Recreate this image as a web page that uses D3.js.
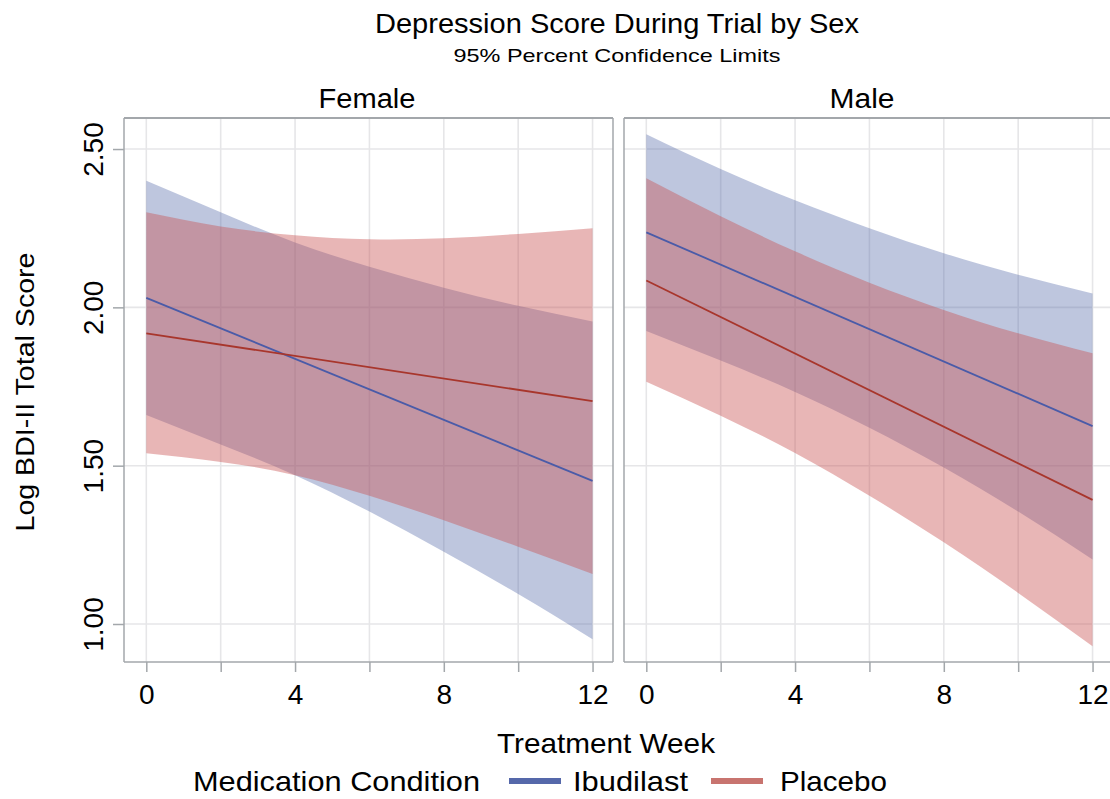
<!DOCTYPE html>
<html>
<head>
<meta charset="utf-8">
<script src="https://cdn.jsdelivr.net/npm/d3@7"></script>
<style>
  html, body { margin: 0; padding: 0; background: #fff; }
  svg { display: block; }
  .cond { font-family: "Liberation Sans Narrow", "Liberation Sans", Arial, sans-serif; fill: #000; }
  .num { font-family: "Liberation Sans", Arial, sans-serif; fill: #000; }
</style>
</head>
<body>
<svg id="chart" width="1110" height="799"></svg>
<script>
// ---------------- data ----------------
const panels = ["Female", "Male"];
const conditions = ["Ibudilast", "Placebo"];
const bandWeeks = [0, 2, 4, 6, 8, 10, 12];
const lineWeeks = [0, 12];
const xTickValues = [0, 2, 4, 6, 8, 10, 12];
const xTickLabels = ["0", "", "4", "", "8", "", "12"];
const yTickValues = [1.0, 1.5, 2.0, 2.5];
const yTickLabels = ["1.00", "1.50", "2.00", "2.50"];

// Female
const femaleIbudMean = [2.03, 1.452];
const femaleIbudUpper = [2.40, 2.30, 2.205, 2.128, 2.062, 2.005, 1.955];
const femaleIbudLower = [1.66, 1.567, 1.47, 1.355, 1.228, 1.095, 0.952];
const femalePlacMean = [1.918, 1.704];
const femalePlacUpper = [2.30, 2.255, 2.228, 2.215, 2.218, 2.232, 2.25];
const femalePlacLower = [1.539, 1.512, 1.47, 1.405, 1.328, 1.244, 1.158];

// Male
const maleIbudMean = [2.237, 1.625];
const maleIbudUpper = [2.547, 2.437, 2.338, 2.25, 2.171, 2.103, 2.044];
const maleIbudLower = [1.925, 1.832, 1.733, 1.62, 1.494, 1.355, 1.204];
const malePlacMean = [2.085, 1.392];
const malePlacUpper = [2.408, 2.288, 2.177, 2.078, 1.992, 1.918, 1.855];
const malePlacLower = [1.765, 1.658, 1.54, 1.405, 1.258, 1.098, 0.93];

const panelData = {
  Female: {
    Ibudilast: { mean: femaleIbudMean, upper: femaleIbudUpper, lower: femaleIbudLower },
    Placebo:   { mean: femalePlacMean, upper: femalePlacUpper, lower: femalePlacLower }
  },
  Male: {
    Ibudilast: { mean: maleIbudMean, upper: maleIbudUpper, lower: maleIbudLower },
    Placebo:   { mean: malePlacMean, upper: malePlacUpper, lower: malePlacLower }
  }
};

// ---------------- styles ----------------
const bandColor = { Ibudilast: "rgba(84,104,168,0.38)", Placebo: "rgba(200,80,80,0.42)" };
const lineColor = { Ibudilast: "#4A5BA8", Placebo: "#A8362C" };
const legendColor = { Ibudilast: "#5568AA", Placebo: "#C8746F" };
const gridColor = "#E6E6E8";
const frameColor = "#A3A7AB";

const svg = d3.select("#chart");

const panelLeft = { Female: 124, Male: 624 };
const panelWidth = 489;
const plotTop = 118, plotBottom = 662;

const y = d3.scaleLinear().domain([0.88, 2.598]).range([plotBottom, plotTop]);

// ---------------- titles ----------------
svg.append("text").attr("class", "cond")
  .attr("x", 617).attr("y", 33).attr("text-anchor", "middle")
  .attr("font-size", 27).attr("textLength", 484).attr("lengthAdjust", "spacingAndGlyphs")
  .text("Depression Score During Trial by Sex");
svg.append("text").attr("class", "cond")
  .attr("x", 617).attr("y", 62).attr("text-anchor", "middle")
  .attr("font-size", 19).attr("textLength", 327).attr("lengthAdjust", "spacingAndGlyphs")
  .text("95% Percent Confidence Limits");

// y axis title
svg.append("text").attr("class", "num")
  .attr("transform", "translate(34,392) rotate(-90)")
  .attr("text-anchor", "middle").attr("font-size", 26)
  .attr("textLength", 279).attr("lengthAdjust", "spacingAndGlyphs")
  .text("Log BDI-II Total Score");

const headerLen = { Female: 97, Male: 65 };
const headerX = { Female: 367, Male: 862 };

panels.forEach(p => {
  const x0 = panelLeft[p];
  const x = d3.scaleLinear().domain([-0.6, 12.55]).range([x0, x0 + panelWidth]);
  const g = svg.append("g");

  const clipId = "clip-" + p;
  svg.append("clipPath").attr("id", clipId)
    .append("rect").attr("x", x0).attr("y", plotTop).attr("width", panelWidth).attr("height", plotBottom - plotTop);

  // gridlines
  g.selectAll(".vg").data(xTickValues).join("line")
    .attr("x1", d => x(d)).attr("x2", d => x(d))
    .attr("y1", plotTop).attr("y2", plotBottom)
    .attr("stroke", gridColor).attr("stroke-width", 1.6);
  g.selectAll(".hg").data(yTickValues).join("line")
    .attr("x1", x0).attr("x2", x0 + panelWidth)
    .attr("y1", d => y(d)).attr("y2", d => y(d))
    .attr("stroke", gridColor).attr("stroke-width", 1.6);

  const plot = g.append("g").attr("clip-path", `url(#${clipId})`);

  // bands
  conditions.forEach(c => {
    const d = panelData[p][c];
    const rows = bandWeeks.map((w, i) => ({ w, lo: d.lower[i], hi: d.upper[i] }));
    const area = d3.area().x(r => x(r.w)).y0(r => y(r.lo)).y1(r => y(r.hi)).curve(d3.curveNatural);
    plot.append("path").datum(rows).attr("d", area).attr("fill", bandColor[c]);
  });
  // lines
  conditions.forEach(c => {
    const d = panelData[p][c];
    const rows = lineWeeks.map((w, i) => ({ w, v: d.mean[i] }));
    const line = d3.line().x(r => x(r.w)).y(r => y(r.v));
    plot.append("path").datum(rows).attr("d", line)
      .attr("fill", "none").attr("stroke", lineColor[c]).attr("stroke-width", 1.8);
  });

  // frame
  g.append("line").attr("x1", x0).attr("x2", x0 + panelWidth).attr("y1", plotTop).attr("y2", plotTop)
    .attr("stroke", frameColor).attr("stroke-width", 2.2);
  g.append("line").attr("x1", x0).attr("x2", x0 + panelWidth).attr("y1", plotBottom).attr("y2", plotBottom)
    .attr("stroke", frameColor).attr("stroke-width", 1.5);
  g.append("line").attr("x1", x0).attr("x2", x0).attr("y1", plotTop).attr("y2", plotBottom)
    .attr("stroke", frameColor).attr("stroke-width", 1.5);
  g.append("line").attr("x1", x0 + panelWidth).attr("x2", x0 + panelWidth).attr("y1", plotTop).attr("y2", plotBottom)
    .attr("stroke", frameColor).attr("stroke-width", 1.5);

  // x axis
  const xAxis = d3.axisBottom(x).tickValues(xTickValues)
    .tickFormat((d, i) => xTickLabels[i]).tickSize(10).tickPadding(12);
  const xa = svg.append("g").attr("transform", `translate(0,${plotBottom})`).call(xAxis);
  xa.select(".domain").remove();
  xa.selectAll(".tick line").attr("stroke", frameColor).attr("stroke-width", 1.5);
  xa.selectAll(".tick text").attr("font-size", 28).attr("fill", "#000")
    .attr("font-family", "Liberation Sans, Arial, sans-serif");

  if (p === "Female") {
    const yAxis = d3.axisLeft(y).tickValues(yTickValues)
      .tickFormat((d, i) => yTickLabels[i]).tickSize(11).tickPadding(0);
    const ya = svg.append("g").attr("transform", `translate(${x0},0)`).call(yAxis);
    ya.select(".domain").remove();
    ya.selectAll(".tick line").attr("stroke", frameColor).attr("stroke-width", 1.5);
    ya.selectAll(".tick text")
      .attr("font-size", 28).attr("fill", "#000")
      .attr("font-family", "Liberation Sans, Arial, sans-serif")
      .attr("x", null).attr("dy", null)
      .attr("text-anchor", "middle")
      .attr("transform", "translate(-21,0) rotate(-90)");
  }

  svg.append("text").attr("class", "cond")
    .attr("x", headerX[p]).attr("y", 108).attr("text-anchor", "middle")
    .attr("font-size", 27).attr("textLength", headerLen[p]).attr("lengthAdjust", "spacingAndGlyphs")
    .text(p);
});

// x axis title
svg.append("text").attr("class", "cond")
  .attr("x", 606).attr("y", 753).attr("text-anchor", "middle")
  .attr("font-size", 28).attr("textLength", 218).attr("lengthAdjust", "spacingAndGlyphs")
  .text("Treatment Week");

// legend
const lg = svg.append("g");
lg.append("text").attr("class", "cond")
  .attr("x", 193).attr("y", 791).attr("font-size", 28)
  .attr("textLength", 287).attr("lengthAdjust", "spacingAndGlyphs")
  .text("Medication Condition");
const legendItems = [
  { c: conditions[0], sx: 509, tx: 573, len: 115 },
  { c: conditions[1], sx: 711, tx: 780, len: 107 }
];
legendItems.forEach(it => {
  lg.append("rect").attr("x", it.sx).attr("y", 778).attr("width", 52).attr("height", 6)
    .attr("fill", legendColor[it.c]);
  lg.append("text").attr("class", "cond")
    .attr("x", it.tx).attr("y", 791).attr("font-size", 28)
    .attr("textLength", it.len).attr("lengthAdjust", "spacingAndGlyphs")
    .text(it.c);
});
</script>
</body>
</html>
